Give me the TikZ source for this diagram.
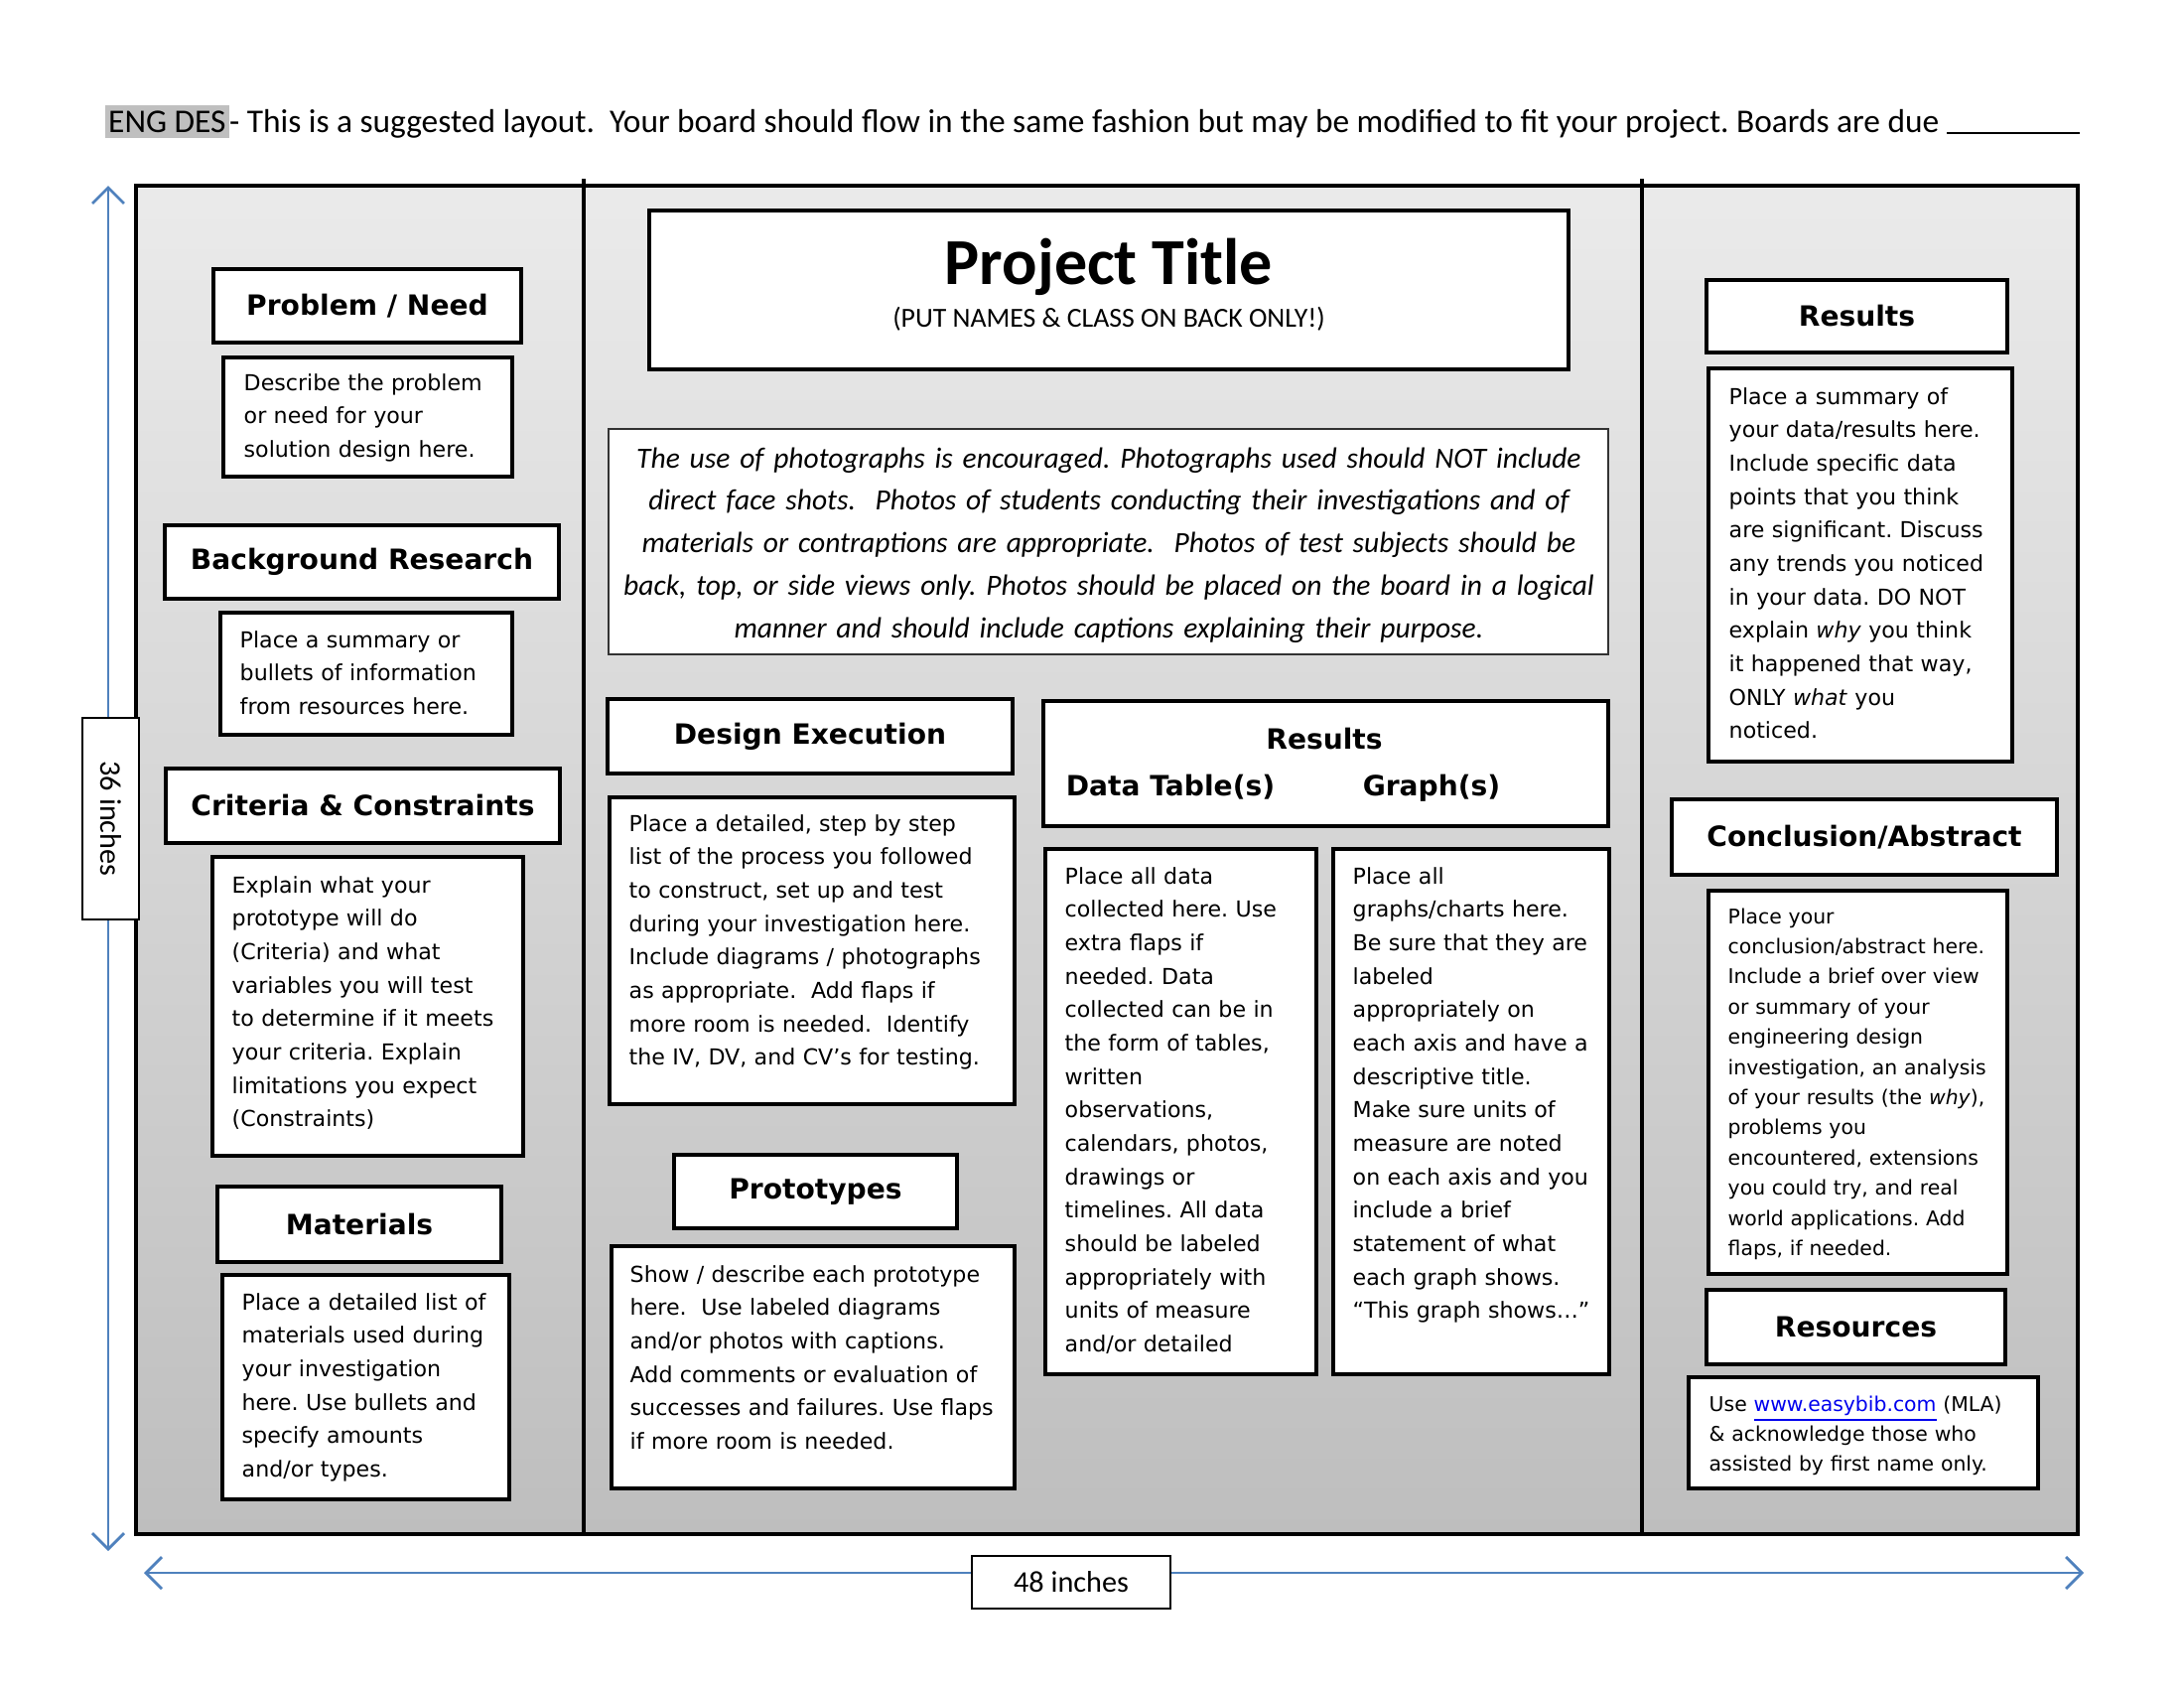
\documentclass[tikz,border=0pt]{standalone}
\usepackage{fontspec}
\setmainfont{Carlito}
\newfontfamily\verd{DejaVu Sans}
\usetikzlibrary{arrows.meta}
\definecolor{dimblue}{RGB}{79,129,189}
\definecolor{hilite}{RGB}{191,191,191}
\definecolor{linkblue}{RGB}{0,0,238}
\setlength{\fboxsep}{1pt}
\frenchspacing

\begin{document}
\begin{tikzpicture}[x=1cm,y=-1cm]
  \tikzstyle{head}=[draw,fill=white,line width=1.1pt,inner sep=0pt,font=\verd\bfseries\fontsize{8}{10}\selectfont]
  \tikzstyle{pbox}=[draw,fill=white,line width=1.1pt,inner sep=0pt,anchor=north west]
  \tikzstyle{ptext}=[anchor=base west,align=left,text width=5cm,inner sep=0pt,font=\verd\fontsize{6.3}{9.58}\selectfont]
  \tikzstyle{small}=[font=\verd\fontsize{5.8}{8.65}\selectfont]
  \tikzstyle{dimbox}=[draw,fill=white,line width=0.5pt,inner sep=0pt,font=\fontsize{8.6}{10}\selectfont]
  \tikzstyle{dimarrow}=[dimblue,line width=0.8pt,{Straight Barb[length=1.6mm,width=3.2mm]}-{Straight Barb[length=1.6mm,width=3.2mm]}]
  \useasboundingbox (0,0) rectangle (22,17);

  % note above the board
  \node[anchor=base west,inner sep=0pt,font=\fontsize{9.5}{11.4}\selectfont] (note) at (1.05,1.33)
    {\colorbox{hilite}{\rule[-0.7pt]{0pt}{7.3pt}ENG DES}- This is a suggested layout.\ \ Your board should flow in the same fashion but may be modified to fit your project. Boards are due \rule[-0.6pt]{1.34cm}{0.6pt}};

  % dimension arrows
  \coordinate (v-top) at (1.09,1.87);
  \coordinate (v-bot) at (1.09,15.62);
  \coordinate (h-left) at (1.45,15.84);
  \coordinate (h-right) at (20.99,15.84);
  \draw[dimarrow] (v-top) -- (v-bot);
  \draw[dimarrow] (h-left) -- (h-right);

  % board
  \shade[top color=gray!16,bottom color=gray!51] (1.37,1.87) rectangle (20.93,15.45);
  \draw[line width=1.3pt] (1.37,1.87) rectangle (20.93,15.45);
  \draw[line width=1pt] (5.88,1.80) -- (5.88,15.45);
  \draw[line width=1pt] (16.54,1.80) -- (16.54,15.45);

  \node[dimbox,rotate=-90,minimum width=2.03cm,minimum height=0.57cm] (height) at (1.115,8.245) {36 inches};
  \node[dimbox,minimum width=2.0cm,minimum height=0.53cm] (width) at (10.79,15.935) {48 inches};

  % title and photo note
  \node[draw,fill=white,line width=1.3pt,minimum width=9.26cm,minimum height=1.60cm] (title) at (11.17,2.92) {};
  \node[anchor=base,font=\bfseries\fontsize{18.8}{22}\selectfont] (title-t) at (11.17,2.86) {Project Title};
  \node[anchor=base,font=\fontsize{7.9}{9}\selectfont] (title-s) at (11.17,3.29) {(PUT NAMES \& CLASS ON BACK ONLY!)};
  \node[draw=black!80,fill=white,line width=0.5pt,minimum width=10.07cm,minimum height=2.27cm] (photo) at (11.165,5.455) {};
  \node[anchor=base,align=center,text width=10.5cm,inner sep=0pt,font=\itshape\fontsize{8.4}{12.2}\selectfont] (photo-t) at (11.17,4.71)
    {The use of photographs is encouraged. Photographs used should NOT include\\
     direct face shots.\ \ Photos of students conducting their investigations and of\\
     materials or contraptions are appropriate.\ \ Photos of test subjects should be\\
     back, top, or side views only. Photos should be placed on the board in a logical\\
     manner and should include captions explaining their purpose.};

  % headings
  \foreach \name/\x/\y/\w/\h/\lab in {prob-h/3.70/3.08/3.10/0.74/{Problem / Need},
      back-h/3.645/5.66/3.97/0.74/{Background Research},
      crit-h/3.655/8.115/3.97/0.75/{Criteria \& Constraints},
      mat-h/3.62/12.33/2.86/0.76/{Materials},
      des-h/8.16/7.415/4.08/0.75/{Design Execution},
      pro-h/8.215/12.00/2.85/0.74/{Prototypes},
      tab-h/13.355/7.69/5.69/1.26/{},
      res-h/18.705/3.185/3.03/0.73/{Results},
      con-h/18.78/8.43/3.88/0.76/{Conclusion/Abstract},
      src-h/18.695/13.365/3.01/0.75/{Resources}}
    \node[head,minimum width=\w cm,minimum height=\h cm] (\name) at (\x,\y) {\lab};
  \node[anchor=base,inner sep=0pt,font=\verd\bfseries\fontsize{8}{10}\selectfont] (tab-r) at (13.34,7.54) {Results};
  \node[anchor=base,inner sep=0pt,font=\verd\bfseries\fontsize{8}{10}\selectfont] (tab-d) at (11.79,8.01) {Data Table(s)};
  \node[anchor=base,inner sep=0pt,font=\verd\bfseries\fontsize{8}{10}\selectfont] (tab-g) at (14.42,8.01) {Graph(s)};

  % panels
  \foreach \name/\x/\y/\w/\h in {prob/2.23/3.58/2.91/1.20, back/2.20/6.15/2.94/1.23,
      crit/2.12/8.61/3.13/3.01, mat/2.22/12.82/2.89/2.26, des/6.12/8.01/4.08/3.09,
      pro/6.14/12.53/4.06/2.44, tab/10.51/8.53/2.73/5.29, grf/13.41/8.53/2.78/5.29,
      res/17.19/3.69/3.06/3.96, con/17.19/8.95/3.01/3.86, src/16.99/13.85/3.52/1.12}
    \node[pbox,minimum width=\w cm,minimum height=\h cm] (\name) at (\x,\y) {};

  \node[ptext] (prob-t) at ([shift={(0.22,0.35)}]prob.north west)
    {Describe the problem\\or need for your\\solution design here.};
  \node[ptext] (back-t) at ([shift={(0.21,0.37)}]back.north west)
    {Place a summary or\\bullets of information\\from resources here.};
  \node[ptext] (crit-t) at ([shift={(0.21,0.38)}]crit.north west)
    {Explain what your\\prototype will do\\(Criteria) and what\\variables you will test\\to determine if it meets\\your criteria. Explain\\limitations you expect\\(Constraints)};
  \node[ptext] (mat-t) at ([shift={(0.21,0.37)}]mat.north west)
    {Place a detailed list of\\materials used during\\your investigation\\here. Use bullets and\\specify amounts\\and/or types.};
  \node[ptext] (des-t) at ([shift={(0.21,0.36)}]des.north west)
    {Place a detailed, step by step\\list of the process you followed\\to construct, set up and test\\during your investigation here.\\Include diagrams / photographs\\as appropriate.\ \ Add flaps if\\more room is needed.\ \ Identify\\the IV, DV, and CV’s for testing.};
  \node[ptext] (pro-t) at ([shift={(0.20,0.38)}]pro.north west)
    {Show / describe each prototype\\here.\ \ Use labeled diagrams\\and/or photos with captions.\\Add comments or evaluation of\\successes and failures. Use flaps\\if more room is needed.};
  \node[ptext] (tab-t) at ([shift={(0.21,0.37)}]tab.north west)
    {Place all data\\collected here. Use\\extra flaps if\\needed. Data\\collected can be in\\the form of tables,\\written\\observations,\\calendars, photos,\\drawings or\\timelines. All data\\should be labeled\\appropriately with\\units of measure\\and/or detailed};
  \node[ptext] (grf-t) at ([shift={(0.21,0.37)}]grf.north west)
    {Place all\\graphs/charts here.\\Be sure that they are\\labeled\\appropriately on\\each axis and have a\\descriptive title.\\Make sure units of\\measure are noted\\on each axis and you\\include a brief\\statement of what\\each graph shows.\\“This graph shows…”};
  \node[ptext] (res-t) at ([shift={(0.22,0.38)}]res.north west)
    {Place a summary of\\your data/results here.\\Include specific data\\points that you think\\are significant. Discuss\\any trends you noticed\\in your data. DO NOT\\explain \textit{why} you think\\it happened that way,\\ONLY \textit{what} you\\noticed.};
  \node[ptext,small] (con-t) at ([shift={(0.21,0.35)}]con.north west)
    {Place your\\conclusion/abstract here.\\Include a brief over view\\or summary of your\\engineering design\\investigation, an analysis\\of your results (the \textit{why}),\\problems you\\encountered, extensions\\you could try, and real\\world applications. Add\\flaps, if needed.};
  \node[ptext,small] (src-t) at ([shift={(0.22,0.36)}]src.north west)
    {Use \textcolor{linkblue}{\underline{www.easybib.com}} (MLA)\\\& acknowledge those who\\assisted by first name only.};
\end{tikzpicture}
\end{document}
